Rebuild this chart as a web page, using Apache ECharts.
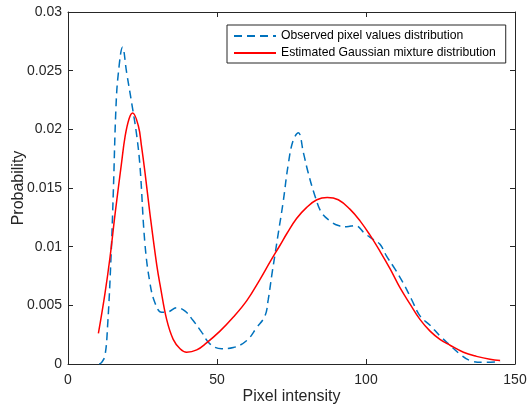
<!DOCTYPE html>
<html><head><meta charset="utf-8">
<script src="https://cdn.jsdelivr.net/npm/echarts@6/dist/echarts.min.js"></script>
<style>html,body{margin:0;padding:0;background:#fff}#c{width:527px;height:413px}</style>
</head><body><div id="c"></div>
<script>
var obsX = [10.5, 11.3, 12.4, 13.3, 14.4, 15.2, 16.1, 16.9, 18.3, 19.7, 21.4, 23.1, 24.2, 25.8, 27.5, 29.2, 31.4, 33.7, 36.5, 39.3, 42, 44.9, 47.7, 51.6, 55.5, 60, 63.3, 66.1, 67.2, 68.4, 69.5, 70.6, 72.2, 73.9, 75.6, 77.3, 79, 80.6, 82.9, 85.1, 87.9, 90.7, 93.5, 96.3, 99.7, 102.5, 104.7, 106.9, 109.7, 112.5, 115.3, 118.1, 121.5, 124.8, 128.2, 131.5, 134.9, 139.4, 145];
var obsY = [0, 0.00014, 0.0007, 0.0033, 0.0089, 0.0146, 0.0219, 0.0248, 0.0270, 0.0248, 0.0222, 0.0194, 0.0167, 0.0103, 0.0069, 0.0052, 0.0044, 0.00445, 0.0048, 0.0045, 0.0037, 0.0027, 0.0017, 0.0013, 0.0014, 0.0020, 0.0031, 0.0041, 0.0055, 0.0076, 0.0094, 0.0112, 0.0138, 0.0170, 0.0191, 0.0197, 0.0180, 0.0163, 0.0143, 0.0129, 0.0122, 0.0118, 0.0117, 0.0118, 0.0111, 0.0106, 0.0102, 0.0092, 0.0081, 0.0069, 0.0055, 0.0041, 0.0033, 0.0024, 0.0016, 0.00085, 0.0003, 0.00014, 0.0002];
var estX = [10.2, 12.4, 14.1, 15.8, 18, 19.1, 20.5, 21.7, 23.6, 24.7, 25.8, 27.5, 29.8, 31, 33.1, 35.3, 37.6, 39.8, 43.2, 46.5, 51, 55.5, 60, 64.4, 67.8, 71.1, 73.4, 76.7, 80.1, 83.5, 87, 90.7, 94.6, 98, 101.3, 104.7, 108.1, 111.4, 114.8, 118.1, 121.5, 124.8, 128.2, 132.7, 137.1, 141.6, 145];
var estY = [0.0026, 0.0060, 0.0091, 0.0128, 0.0172, 0.0193, 0.0209, 0.0214, 0.0203, 0.0185, 0.0164, 0.0128, 0.0084, 0.0066, 0.0038, 0.0021, 0.0013, 0.0010, 0.0012, 0.0018, 0.0028, 0.0040, 0.0054, 0.0072, 0.0087, 0.0101, 0.0111, 0.0124, 0.01335, 0.0140, 0.0142, 0.0140, 0.0132, 0.0122, 0.0110, 0.0096, 0.0081, 0.0065, 0.0051, 0.0038, 0.0028, 0.0021, 0.0016, 0.0010, 0.00065, 0.0004, 0.0003];
var seriesNames = ['Observed pixel values distribution', 'Estimated Gaussian mixture distribution'];
var xTicks = [0, 50, 100, 150];
var yTicks = [0, 0.005, 0.01, 0.015, 0.02, 0.025, 0.03];
var xTitle = 'Pixel intensity';
var yTitle = 'Probability';

function pairs(xs, ys) { return xs.map(function (x, i) { return [x, ys[i]]; }); }
var FONT = 'Liberation Sans, Arial, Helvetica, sans-serif';
var AX = '#262626';
var chart = echarts.init(document.getElementById('c'), null, {renderer: 'canvas'});
var baseAxis = {
  axisLine: {show: true, onZero: false, lineStyle: {color: AX, width: 1}},
  axisTick: {show: true, inside: true, length: 5, lineStyle: {color: AX}},
  splitLine: {show: false},
  axisLabel: {color: AX, fontFamily: FONT, fontSize: 14}
};
chart.setOption({
  animation: false,
  backgroundColor: '#fff',
  grid: {left: 68, right: 12, top: 12, bottom: 49, containLabel: false, outerBoundsMode: 'none'},
  legend: {
    orient: 'vertical', left: 227, top: 25,
    borderColor: AX, borderWidth: 1, backgroundColor: '#fff',
    padding: [5, 10, 4, 6], itemGap: 5, itemWidth: 42, itemHeight: 12,
    itemStyle: {opacity: 0},
    textStyle: {color: '#000', fontFamily: FONT, fontSize: 12.2},
    data: seriesNames
  },
  xAxis: [
    Object.assign({}, baseAxis, {type: 'value', min: 0, max: 150, interval: 50, position: 'bottom',
      name: xTitle, nameLocation: 'middle', nameGap: 25, nameMoveOverlap: false,
      nameTextStyle: {color: AX, fontFamily: FONT, fontSize: 16},
      axisLabel: Object.assign({}, baseAxis.axisLabel, {margin: 9, formatter: function (v) { return xTicks.indexOf(v) >= 0 ? String(v) : ''; }})}),
    Object.assign({}, baseAxis, {type: 'value', min: 0, max: 150, interval: 50, position: 'top', axisLabel: {show: false}})
  ],
  yAxis: [
    Object.assign({}, baseAxis, {type: 'value', min: 0, max: 0.03, interval: 0.005, position: 'left',
      name: yTitle, nameLocation: 'middle', nameGap: 41, nameMoveOverlap: false,
      nameTextStyle: {color: AX, fontFamily: FONT, fontSize: 16},
      axisLabel: Object.assign({}, baseAxis.axisLabel, {margin: 6, formatter: function (v) { var r = Math.round(v * 1000) / 1000; return yTicks.indexOf(r) >= 0 ? String(r) : ''; }})}),
    Object.assign({}, baseAxis, {type: 'value', min: 0, max: 0.03, interval: 0.005, position: 'right', axisLabel: {show: false}})
  ],
  series: [
    {name: seriesNames[0], type: 'line', data: pairs(obsX, obsY), showSymbol: false, symbol: 'none',
      smooth: 0.4, lineStyle: {color: '#0072BD', width: 1.5, type: [8, 5]}, itemStyle: {color: '#0072BD'}},
    {name: seriesNames[1], type: 'line', data: pairs(estX, estY), showSymbol: false, symbol: 'none',
      smooth: 0.4, lineStyle: {color: '#FF0000', width: 1.5}, itemStyle: {color: '#FF0000'}}
  ]
});
</script></body></html>
